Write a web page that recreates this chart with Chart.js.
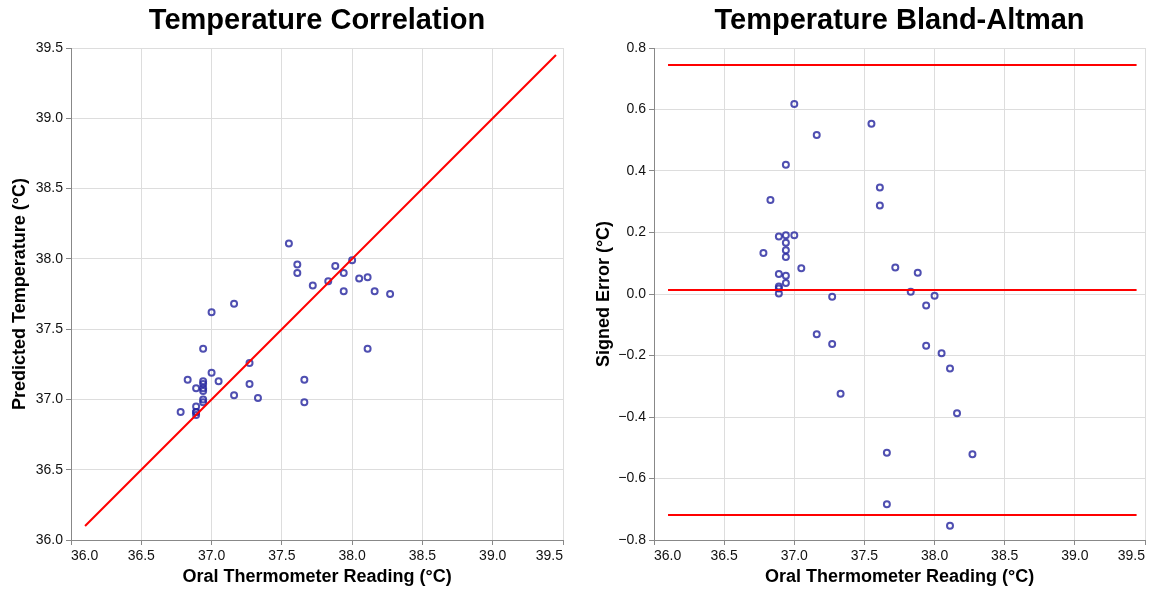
<!DOCTYPE html>
<html lang="en">
<head>
<meta charset="UTF-8" />
<title>Temperature Correlation / Bland-Altman</title>
<style>
  body { margin: 0; background: #fff; }
  .wrap { position: relative; width: 1151px; height: 592px; background: #fff; }
  #corr { position: absolute; left: 0; top: 0; }
  #ba { position: absolute; left: 576px; top: 0; }
</style>
</head>
<body>
<div class="wrap">
  <canvas id="corr" width="576" height="592"></canvas>
  <canvas id="ba" width="575" height="592"></canvas>
</div>

<script src="https://cdn.jsdelivr.net/npm/chart.js@4"></script>
<script>
  // readings per subject (°C)
  const oral = [
    37.00, 37.16, 36.94, 36.83, 36.78, 36.89, 36.94, 37.00, 36.94, 36.94,
    36.94, 37.05, 36.89, 36.94, 36.94, 36.89, 36.89, 36.89, 37.27, 37.55,
    37.61, 37.61, 37.72, 37.88, 37.83, 38.00, 37.94, 37.16, 37.27, 37.94,
    38.05, 38.11, 37.33, 38.16, 37.66, 38.27, 37.66, 38.11
  ];
  const predicted = [
    37.62, 37.68, 37.36, 37.14, 36.91, 37.08, 37.13, 37.19, 37.11, 37.08,
    37.06, 37.13, 36.95, 37.00, 36.98, 36.91, 36.91, 36.89, 37.26, 38.11,
    37.96, 37.90, 37.81, 37.95, 37.84, 37.99, 37.90, 37.03, 37.11, 37.77,
    37.86, 37.87, 37.01, 37.77, 37.14, 37.75, 36.98, 37.36
  ];
  const signedError = [
    0.618, 0.517, 0.420, 0.306, 0.133, 0.187, 0.191, 0.191, 0.167, 0.142,
    0.120, 0.084, 0.065, 0.059, 0.036, 0.024, 0.018, 0.002, -0.009, 0.554,
    0.346, 0.288, 0.086, 0.069, 0.007, -0.006, -0.037, -0.131, -0.163, -0.168,
    -0.193, -0.242, -0.324, -0.388, -0.516, -0.521, -0.684, -0.754
  ];

  // reference lines
  const identityLine = [36.1, 39.45];
  const baLineX = [36.1, 39.44];
  const meanError = 0.013;
  const upperLimit = 0.745;
  const lowerLimit = -0.719;

  // axes
  const tempMin = 36.0, tempMax = 39.5, tempStep = 0.5;
  const errMin = -0.8, errMax = 0.8, errStep = 0.2;

  const FONT = "'Liberation Sans', Arial, Helvetica, sans-serif";
  const pointColor = 'rgba(40, 40, 160, 0.82)';

  const fmt = v => {
    if (Math.abs(v) < 1e-9) v = 0;
    return v.toFixed(1).replace('-', '\u2212');
  };

  function axis(title, min, max, step, extra) {
    return Object.assign({
      type: 'linear',
      min: min,
      max: max,
      grid: { color: '#dddddd', tickLength: 5, tickColor: '#888888' },
      border: { color: '#888888', width: 1 },
      ticks: {
        stepSize: step,
        color: '#111',
        padding: 3,
        font: { family: FONT, size: 14 },
        callback: v => fmt(v)
      },
      title: {
        display: true,
        text: title,
        color: '#000',
        font: { family: FONT, size: 18, weight: 'bold' }
      }
    }, extra);
  }

  function pts(xs, ys) {
    return xs.map((x, i) => ({ x: x, y: ys[i] }));
  }

  function redLine(xs, ys) {
    return {
      data: pts(xs, ys),
      showLine: true,
      borderColor: '#ff0000',
      borderWidth: 2,
      pointRadius: 0,
      order: 0
    };
  }

  function scatterSet(xs, ys) {
    return {
      data: pts(xs, ys),
      pointRadius: 3,
      pointBorderWidth: 2,
      pointBorderColor: pointColor,
      pointBackgroundColor: 'rgba(0,0,0,0)',
      order: 1
    };
  }

  function makeChart(id, title, datasets, yAxis, yWidth, rightPad) {
    const x = axis('Oral Thermometer Reading (°C)', tempMin, tempMax, tempStep, {});
    x.ticks.align = 'inner';
    x.ticks.maxRotation = 0;
    x.title.padding = { top: 0, bottom: 4 };
    x.afterFit = s => { s.height = 52; };
    yAxis.afterFit = s => { s.width = yWidth; };

    return new Chart(document.getElementById(id), {
      type: 'scatter',
      data: { datasets: datasets },
      options: {
        responsive: false,
        animation: false,
        devicePixelRatio: 1,
        layout: { padding: { left: 0, right: rightPad, top: 0, bottom: 0 } },
        plugins: {
          legend: { display: false },
          tooltip: { enabled: false },
          title: {
            display: true,
            text: title,
            fullSize: false,
            color: '#000',
            font: { family: FONT, size: 29, weight: 'bold' },
            padding: { top: 3.5, bottom: 9.7 }
          }
        },
        scales: { x: x, y: yAxis }
      }
    });
  }

  // left: predicted vs oral
  const yCorr = axis('Predicted Temperature (°C)', tempMin, tempMax, tempStep, {});
  yCorr.title.padding = { top: 9, bottom: 0 };
  makeChart('corr', 'Temperature Correlation', [
    redLine(identityLine, identityLine),
    scatterSet(oral, predicted)
  ], yCorr, 71, 13);

  // right: Bland-Altman
  const yBa = axis('Signed Error (°C)', errMin, errMax, errStep, {});
  yBa.title.padding = { top: 17, bottom: 0 };
  makeChart('ba', 'Temperature Bland-Altman', [
    redLine(baLineX, [upperLimit, upperLimit]),
    redLine(baLineX, [meanError, meanError]),
    redLine(baLineX, [lowerLimit, lowerLimit]),
    scatterSet(oral, signedError)
  ], yBa, 78, 5);
</script>
</body>
</html>
